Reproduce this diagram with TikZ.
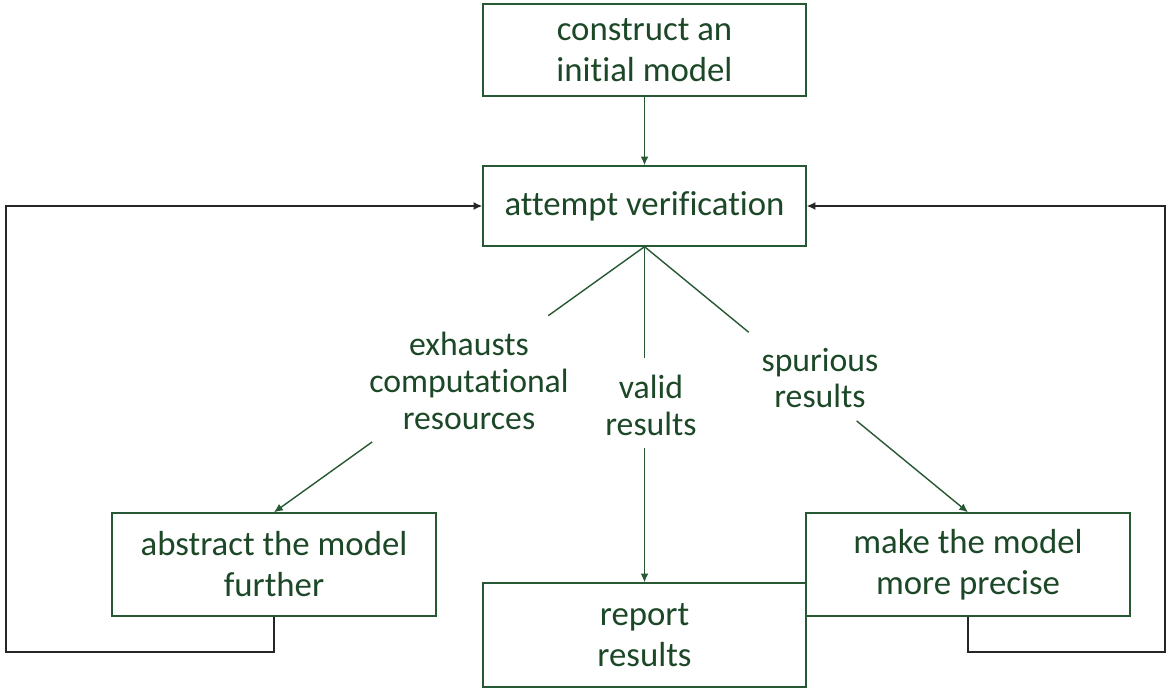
\documentclass[tikz,border=0pt]{standalone}
\usepackage{fontspec}
\setmainfont{Carlito}[Ligatures=NoCommon]
\usepackage{xcolor}
\definecolor{mossgreen}{RGB}{28,72,40}
\definecolor{linegreen}{RGB}{38,88,52}
\usetikzlibrary{calc,arrows.meta}
\tikzset{flowbox/.style={draw=linegreen,line width=0.8pt,fill=white,text=mossgreen,
    align=center,inner sep=0pt,minimum width=6.46cm,
    font=\fontsize{19.8}{23.3}\selectfont},
  flowlabel/.style={text=mossgreen,align=center,inner sep=0pt,
    font=\fontsize{19.2}{21}\selectfont},
  flowlink/.style={draw=linegreen,line width=0.8pt},
  looplink/.style={draw=black!85,line width=0.8pt},
  tip/.style={-{Latex[length=5pt,width=4.5pt]}}}

\begin{document}
\begin{tikzpicture}[x=0.02cm,y=-0.02cm]
  \useasboundingbox (0,0) rectangle (1172,692);

  \node [flowbox,minimum height=1.84cm] (init)   at (644.5,50)  {construct an\\initial model};
  \node [flowbox,minimum height=1.60cm] (verify) at (644.5,206) {attempt verification};
  \node [flowbox,minimum height=2.08cm] (report) at (644.5,635) {report\\results};
  \node [flowbox,minimum height=2.06cm,minimum width=6.48cm] (abstract) at (274,564.5) {abstract the model\\further};
  \node [flowbox,minimum height=2.06cm,minimum width=6.48cm] (precise)  at (968,564.5) {make the model\\more precise};

  \node [flowlabel] (exhausts) at (469,381) {exhausts\\computational\\resources};
  \node [flowlabel] (valid)    at (651,405) {valid\\results};
  \node [flowlabel] (spurious) at (820,378) {spurious\\results};

  \coordinate (ll) at (6,652);
  \coordinate (rr) at (1165,652);

  \path (verify.south) -- (abstract.north) coordinate[pos=.26]  (ex1) coordinate[pos=.735] (ex2);
  \path (verify.south) -- (report.north)   coordinate[pos=.332] (va1) coordinate[pos=.599] (va2);
  \path (verify.south) -- (precise.north)  coordinate[pos=.322] (sp1) coordinate[pos=.656] (sp2);

  \draw [flowlink,tip] (init) -- (verify);
  \draw [flowlink] (verify.south) -- (ex1);
  \draw [flowlink,tip] (ex2) -- (abstract.north);
  \draw [flowlink] (verify.south) -- (va1);
  \draw [flowlink,tip] (va2) -- (report.north);
  \draw [flowlink] (verify.south) -- (sp1);
  \draw [flowlink,tip] (sp2) -- (precise.north);

  % loops back to verification
  \draw [looplink,tip] (abstract.south) |- (ll) |- (verify.west);
  \draw [looplink,tip] (precise.south) |- (rr) |- (verify.east);
\end{tikzpicture}
\end{document}
